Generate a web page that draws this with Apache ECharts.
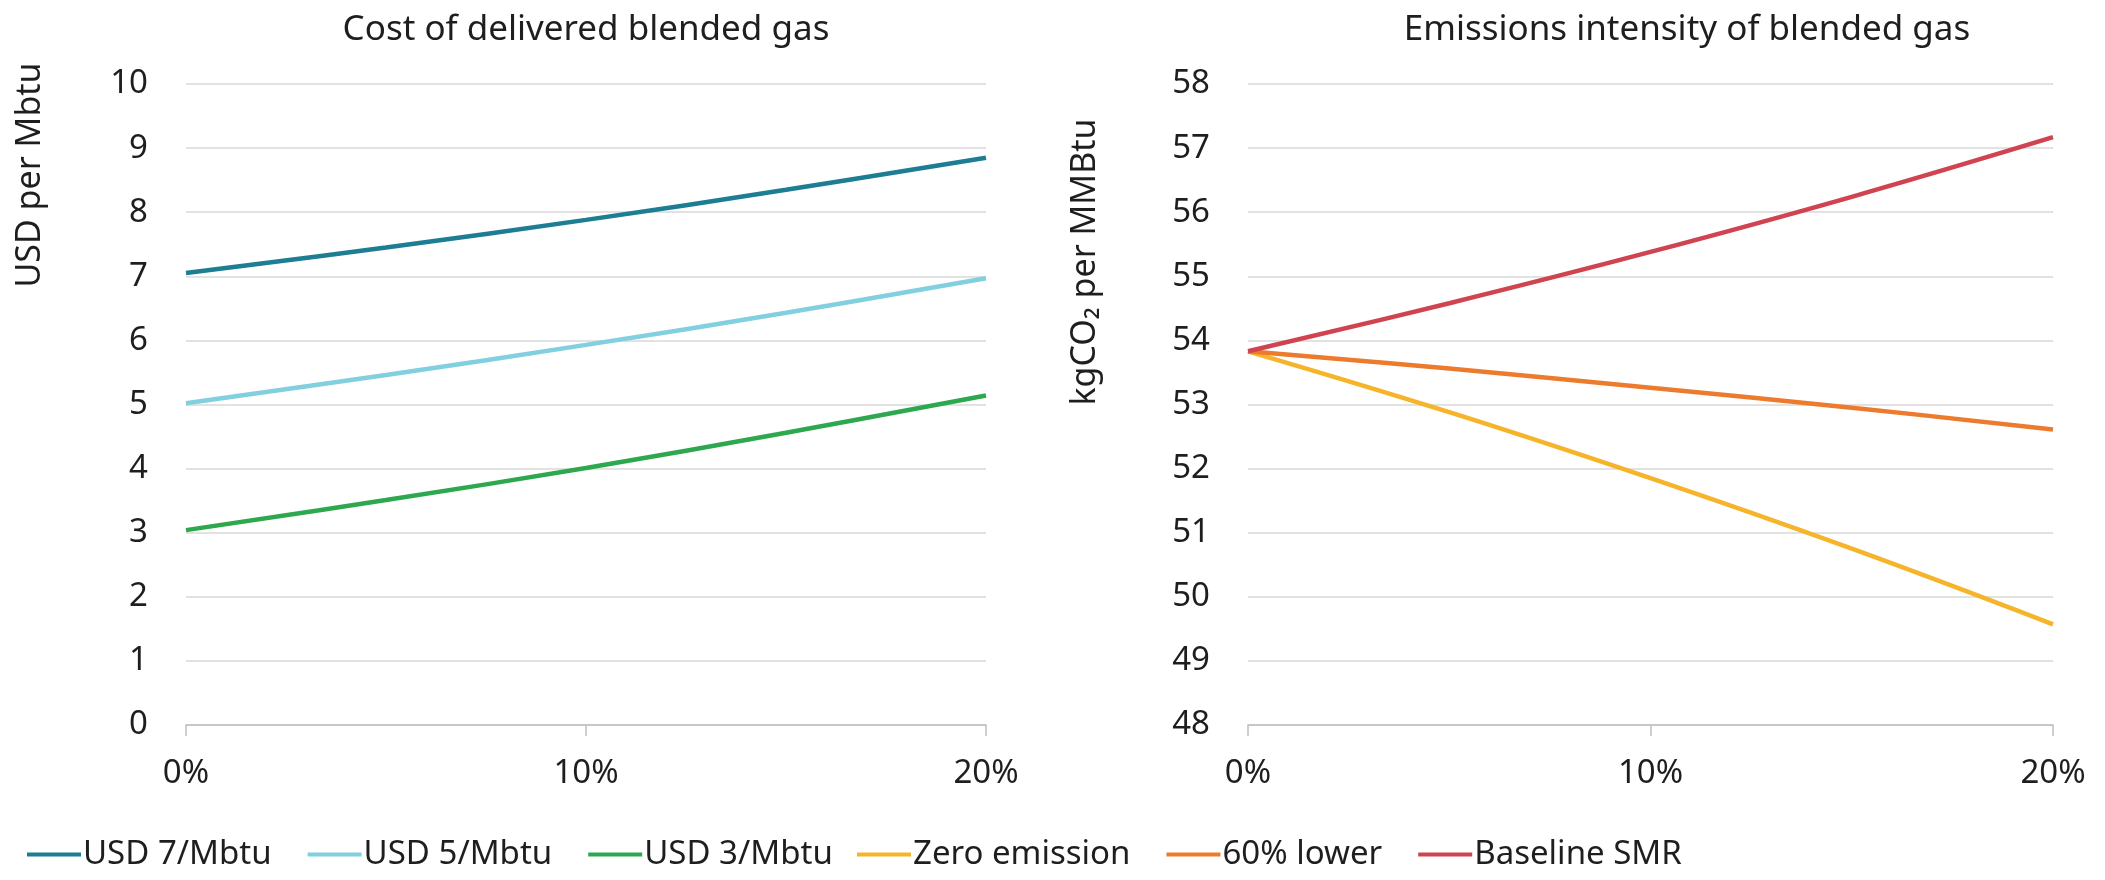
<!DOCTYPE html>
<html>
<head>
<meta charset="utf-8">
<style>
html,body{margin:0;padding:0;background:#fff;}
#chart{width:2105px;height:880px;}
</style>
<script src="https://cdn.jsdelivr.net/npm/echarts@6/dist/echarts.min.js"></script>
</head>
<body>
<div id="chart"></div>
<script>
// Blend share of hydrogen (% by volume)
var blendShare = [0, 5, 10, 15, 20];
var xTicks = ['0%', '10%', '20%'];

// Cost of delivered blended gas (USD per Mbtu)
var costNames = ['USD 7/Mbtu', 'USD 5/Mbtu', 'USD 3/Mbtu'];
var usd7 = [7.05, 7.45, 7.88, 8.35, 8.85];
var usd5 = [5.02, 5.46, 5.93, 6.43, 6.97];
var usd3 = [3.04, 3.51, 4.01, 4.56, 5.14];

// Emissions intensity of blended gas (kgCO2 per MMBtu)
var emisNames = ['Zero emission', '60% lower', 'Baseline SMR'];
var zeroEmission = [53.83, 52.88, 51.85, 50.75, 49.57];
var lower60 = [53.83, 53.56, 53.26, 52.95, 52.61];
var baselineSMR = [53.83, 54.58, 55.38, 56.24, 57.17];

var costColors = ['#1c7d93', '#82cfe0', '#2ea84f'];
var emisColors = ['#f6b42a', '#ec7b2e', '#cf4450'];

var FONT = 'Noto Sans';
var TXT = '#1e1e1e';

function pairs(ys) { return blendShare.map(function (x, i) { return [x, ys[i]]; }); }

var chart = echarts.init(document.getElementById('chart'));

function xAxis(idx) {
  return {
    gridIndex: idx, type: 'value', min: 0, max: 20, interval: 10,
    axisLine: { show: true, lineStyle: { color: '#bfbfbf', width: 1.5 } },
    axisTick: { show: true, length: 11, inside: false, lineStyle: { color: '#bfbfbf', width: 1.5 } },
    splitLine: { show: false },
    axisLabel: {
      fontFamily: FONT, fontSize: 33, color: TXT, margin: 32,
      formatter: function (v) { return xTicks[Math.round(v / 10)]; }
    }
  };
}
function yAxis(idx, mn, mx) {
  return {
    gridIndex: idx, type: 'value', min: mn, max: mx, interval: 1,
    axisLine: { show: false }, axisTick: { show: false },
    splitLine: { show: true, lineStyle: { color: '#d9d9d9', width: 1.5 } },
    axisLabel: { fontFamily: FONT, fontSize: 33, color: TXT, margin: 38 }
  };
}
function line(name, ys, color, xi, yi) {
  return {
    name: name, type: 'line', xAxisIndex: xi, yAxisIndex: yi,
    data: pairs(ys), smooth: 0.4, symbol: 'none',
    lineStyle: { color: color, width: 4.5 }, itemStyle: { color: color },
    z: 3
  };
}

var legendCommon = {
  orient: 'horizontal', top: 833, itemWidth: 54, itemHeight: 14, itemGap: 36,
  icon: 'path://M0,6 L54,6 L54,10 L0,10 Z',
  textStyle: { fontFamily: FONT, fontSize: 33, color: TXT, padding: [0, 0, 0, -3] }
};

chart.setOption({
  animation: false,
  backgroundColor: '#ffffff',
  title: [
    { text: 'Cost of delivered blended gas', left: 581, top: 8, textAlign: 'center',
      textStyle: { fontFamily: FONT, fontSize: 35, fontWeight: 'normal', color: TXT } },
    { text: 'Emissions intensity of blended gas', left: 1682, top: 8, textAlign: 'center',
      textStyle: { fontFamily: FONT, fontSize: 35, fontWeight: 'normal', color: TXT } }
  ],
  grid: [
    { left: 186, top: 84, width: 800, height: 641 },
    { left: 1248, top: 84, width: 805, height: 641 }
  ],
  xAxis: [xAxis(0), xAxis(1)],
  yAxis: [yAxis(0, 0, 10), yAxis(1, 48, 58)],
  legend: [
    Object.assign({ left: 22, data: costNames }, legendCommon),
    Object.assign({ left: 852, data: emisNames }, legendCommon)
  ],
  graphic: [
    { type: 'text', x: 30, y: 175, rotation: Math.PI / 2,
      style: { text: 'USD per Mbtu', fontFamily: FONT, fontSize: 34, fill: TXT,
        textAlign: 'center', textVerticalAlign: 'middle' } },
    { type: 'text', x: 1085, y: 262, rotation: Math.PI / 2,
      style: { text: 'kgCO₂ per MMBtu', fontFamily: FONT, fontSize: 34, fill: TXT,
        textAlign: 'center', textVerticalAlign: 'middle' } }
  ],
  series: [
    line(costNames[0], usd7, costColors[0], 0, 0),
    line(costNames[1], usd5, costColors[1], 0, 0),
    line(costNames[2], usd3, costColors[2], 0, 0),
    line(emisNames[0], zeroEmission, emisColors[0], 1, 1),
    line(emisNames[1], lower60, emisColors[1], 1, 1),
    line(emisNames[2], baselineSMR, emisColors[2], 1, 1)
  ]
});
</script>
</body>
</html>
